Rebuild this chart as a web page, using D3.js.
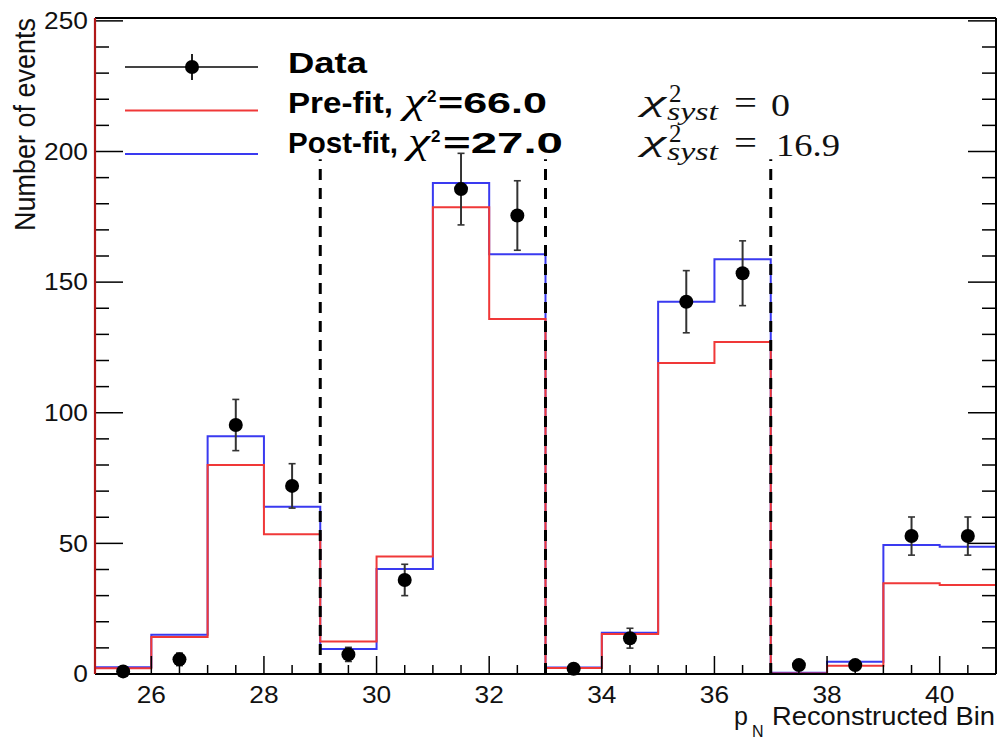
<!DOCTYPE html>
<html>
<head>
<meta charset="utf-8">
<script src="https://cdn.jsdelivr.net/npm/d3@7"></script>
<style>
  html, body { margin: 0; padding: 0; background: #fff; }
  svg { display: block; }
</style>
</head>
<body>
<svg id="chart" width="999" height="742"></svg>
<script>
// ---------------- data ----------------
const binEdges = [25, 26, 27, 28, 29, 30, 31, 32, 33, 34, 35, 36, 37, 38, 39, 40, 41];
const dataValues = [1, 5.6, 95.3, 72, 7.5, 36, 185.6, 175.5, 2, 13.7, 142.5, 153.4, 3.4, 3.4, 52.8, 52.8];
const dataErrors = [1, 2.4, 9.8, 8.5, 2.7, 6, 13.7, 13.3, 1.4, 3.8, 11.9, 12.4, 1.8, 1.8, 7.3, 7.3];
const preFit  = [2.2, 14.2, 80, 53.5, 12.4, 45, 178.7, 135.9, 2.3, 15.3, 119, 127.1, 0.2, 3.2, 34.7, 34.1];
const postFit = [2.6, 15, 91, 64, 9.6, 40.2, 187.9, 160.7, 2.5, 15.8, 142.5, 158.8, 0.5, 4.7, 49.4, 48.7];
const dividers = [29, 33, 37];
const dividerTop = 197;
const xTickMajor = [26, 28, 30, 32, 34, 36, 38, 40];
const yTickMajor = [0, 50, 100, 150, 200, 250];
const legendLabels = ["Data", "Pre-fit,", "Post-fit,"];
const legendChi = ["", "=66.0", "=27.0"];
const syst = ["0", "16.9"];

// ---------------- layout ----------------
const svg = d3.select("#chart");
const L = 95, R = 996, T = 18, B = 674;
const x = d3.scaleLinear().domain([25, 41]).range([L, R]);
const y = d3.scaleLinear().domain([0, 251.1]).range([B, T]);
const SANS = "'Liberation Sans', Arial, Helvetica, sans-serif";
const SERIF = "'Liberation Serif', 'DejaVu Serif', serif";

// ---------------- histograms ----------------
function stepPts(vals) {
  const pts = vals.map((v, i) => [binEdges[i], v]);
  pts.push([binEdges[binEdges.length - 1], vals[vals.length - 1]]);
  return pts;
}
const line = d3.line().x(d => x(d[0])).y(d => y(d[1])).curve(d3.curveStepAfter);
svg.append("path").attr("d", line(stepPts(postFit)))
  .attr("fill", "none").attr("stroke", "#3a3af0").attr("stroke-width", 2);
svg.append("path").attr("d", line(stepPts(preFit)))
  .attr("fill", "none").attr("stroke", "#f03838").attr("stroke-width", 2);

// ---------------- dividers ----------------
svg.append("g").selectAll("line").data(dividers).join("line")
  .attr("x1", d => x(d)).attr("x2", d => x(d))
  .attr("y1", y(0)).attr("y2", y(dividerTop))
  .attr("stroke", "#000").attr("stroke-width", 3)
  .attr("stroke-dasharray", "11,8");

// ---------------- data points ----------------
const centers = dataValues.map((v, i) => (binEdges[i] + binEdges[i + 1]) / 2);
const pg = svg.append("g");
dataValues.forEach((v, i) => {
  const cx = x(centers[i]);
  const lo = y(Math.max(0, v - dataErrors[i])), hi = y(v + dataErrors[i]);
  pg.append("line").attr("x1", cx).attr("x2", cx).attr("y1", lo).attr("y2", hi)
    .attr("stroke", "#333").attr("stroke-width", 2);
  pg.append("line").attr("x1", cx - 3.5).attr("x2", cx + 3.5).attr("y1", lo).attr("y2", lo)
    .attr("stroke", "#333").attr("stroke-width", 1.6);
  pg.append("line").attr("x1", cx - 3.5).attr("x2", cx + 3.5).attr("y1", hi).attr("y2", hi)
    .attr("stroke", "#333").attr("stroke-width", 1.6);
  pg.append("circle").attr("cx", cx).attr("cy", y(v)).attr("r", 7).attr("fill", "#000");
});

// ---------------- frame & ticks ----------------
const ax = svg.append("g");
const xMinor = d3.range(25, 41.01, 0.5).filter(t => !xTickMajor.includes(t));
ax.selectAll(".xmin").data(xMinor).join("line")
  .attr("x1", d => x(d)).attr("x2", d => x(d)).attr("y1", B).attr("y2", B - 9)
  .attr("stroke", "#000").attr("stroke-width", 1.5);
ax.selectAll(".xmaj").data(xTickMajor).join("line")
  .attr("x1", d => x(d)).attr("x2", d => x(d)).attr("y1", B).attr("y2", B - 18)
  .attr("stroke", "#000").attr("stroke-width", 1.5);
const yMinor = d3.range(0, 251, 10).filter(t => !yTickMajor.includes(t));
[[L, 1], [R, -1]].forEach(([x0, dir]) => {
  ax.append("g").selectAll("line").data(yMinor).join("line")
    .attr("x1", x0).attr("x2", x0 + dir * 14).attr("y1", d => y(d)).attr("y2", d => y(d))
    .attr("stroke", "#000").attr("stroke-width", 1.5);
  ax.append("g").selectAll("line").data(yTickMajor).join("line")
    .attr("x1", x0).attr("x2", x0 + dir * 28).attr("y1", d => y(d)).attr("y2", d => y(d))
    .attr("stroke", "#000").attr("stroke-width", 1.5);
});
ax.append("line").attr("x1", L).attr("x2", R).attr("y1", B).attr("y2", B).attr("stroke", "#000").attr("stroke-width", 2);
ax.append("line").attr("x1", L).attr("x2", R).attr("y1", T).attr("y2", T).attr("stroke", "#000").attr("stroke-width", 2);
ax.append("line").attr("x1", R).attr("x2", R).attr("y1", T).attr("y2", B).attr("stroke", "#000").attr("stroke-width", 2);
ax.append("line").attr("x1", L).attr("x2", L).attr("y1", T).attr("y2", B).attr("stroke", "#b01818").attr("stroke-width", 2.2);

// tick labels
ax.selectAll(".xl").data(xTickMajor).join("text")
  .attr("transform", d => `translate(${x(d)},703) scale(1.12,1)`)
  .attr("text-anchor", "middle").attr("font-family", SANS).attr("font-size", 23.5)
  .attr("fill", "#111").text(d => d);
ax.selectAll(".yl").data(yTickMajor).join("text")
  .attr("transform", d => `translate(88,${y(d) + 8.3}) scale(1.12,1)`)
  .attr("text-anchor", "end").attr("font-family", SANS).attr("font-size", 23.5)
  .attr("fill", "#111").text(d => d);

// axis titles
svg.append("text")
  .attr("transform", "translate(35,18) rotate(-90) scale(1,1.12)")
  .attr("text-anchor", "end").attr("font-family", SANS).attr("font-size", 27)
  .attr("fill", "#111").text("Number of events");
svg.append("text").attr("x", 734).attr("y", 725).attr("font-family", SANS).attr("font-size", 25)
  .attr("fill", "#111").text("p");
svg.append("text").attr("x", 752).attr("y", 737).attr("font-family", SANS).attr("font-size", 16)
  .attr("fill", "#111").text("N");
svg.append("text").attr("x", 772).attr("y", 725).attr("font-family", SANS).attr("font-size", 25)
  .attr("textLength", 223).attr("lengthAdjust", "spacingAndGlyphs")
  .attr("fill", "#111").text("Reconstructed Bin");

// ---------------- legend ----------------
const lg = svg.append("g");
const lineY = [67, 110.5, 154];
const textBase = [73.3, 113.3, 153.3];
const labelLen = [79, 105, 110];
const chiX = [0, 404, 408];
const eqX = [0, 438, 443];
const eqLen = [0, 109, 120];
lg.append("line").attr("x1", 125).attr("x2", 258).attr("y1", lineY[0]).attr("y2", lineY[0])
  .attr("stroke", "#444").attr("stroke-width", 2);
lg.append("line").attr("x1", 192).attr("x2", 192).attr("y1", 54).attr("y2", 80)
  .attr("stroke", "#222").attr("stroke-width", 2);
lg.append("circle").attr("cx", 192).attr("cy", lineY[0]).attr("r", 7).attr("fill", "#000");
lg.append("line").attr("x1", 125).attr("x2", 258).attr("y1", lineY[1]).attr("y2", lineY[1])
  .attr("stroke", "#f03838").attr("stroke-width", 2);
lg.append("line").attr("x1", 125).attr("x2", 258).attr("y1", lineY[2]).attr("y2", lineY[2])
  .attr("stroke", "#3a3af0").attr("stroke-width", 2);
legendLabels.forEach((lab, i) => {
  lg.append("text").attr("x", 288).attr("y", textBase[i])
    .attr("font-family", SANS).attr("font-weight", "bold").attr("font-size", 30)
    .attr("textLength", labelLen[i]).attr("lengthAdjust", "spacingAndGlyphs")
    .attr("fill", "#000").text(lab);
  if (legendChi[i]) {
    lg.append("text").attr("x", chiX[i]).attr("y", textBase[i])
      .attr("font-family", SERIF).attr("font-style", "italic").attr("font-size", 36)
      .attr("textLength", 22).attr("lengthAdjust", "spacingAndGlyphs")
      .attr("fill", "#000").text("χ");
    lg.append("text").attr("x", chiX[i] + 23).attr("y", textBase[i] - 11)
      .attr("font-family", SANS).attr("font-weight", "bold").attr("font-size", 17)
      .attr("fill", "#000").text("2");
    lg.append("text").attr("x", eqX[i]).attr("y", textBase[i])
      .attr("font-family", SANS).attr("font-weight", "bold").attr("font-size", 30)
      .attr("textLength", eqLen[i]).attr("lengthAdjust", "spacingAndGlyphs")
      .attr("fill", "#000").text(legendChi[i]);
  }
});

// ---------------- chi2 syst annotation ----------------
const an = svg.append("g");
const rowBase = [116, 156];
syst.forEach((val, i) => {
  const b = rowBase[i];
  an.append("text").attr("x", 642).attr("y", b - 5)
    .attr("font-family", SERIF).attr("font-style", "italic").attr("font-size", 30)
    .attr("textLength", 24).attr("lengthAdjust", "spacingAndGlyphs")
    .attr("fill", "#111").text("χ");
  an.append("text").attr("x", 669).attr("y", b - 14)
    .attr("font-family", SERIF).attr("font-size", 25).attr("fill", "#111").text("2");
  an.append("text").attr("x", 667).attr("y", b + 4)
    .attr("font-family", SERIF).attr("font-style", "italic").attr("font-size", 26)
    .attr("textLength", 51).attr("lengthAdjust", "spacingAndGlyphs")
    .attr("fill", "#111").text("syst");
  an.append("text").attr("x", 734).attr("y", b - 2)
    .attr("font-family", SERIF).attr("font-size", 34)
    .attr("textLength", 23).attr("lengthAdjust", "spacingAndGlyphs")
    .attr("fill", "#111").text("=");
  an.append("text").attr("x", i === 0 ? 771 : 776).attr("y", b)
    .attr("font-family", SERIF).attr("font-size", 32)
    .attr("textLength", i === 0 ? 19 : 64).attr("lengthAdjust", "spacingAndGlyphs")
    .attr("fill", "#111").text(val);
});
</script>
</body>
</html>
